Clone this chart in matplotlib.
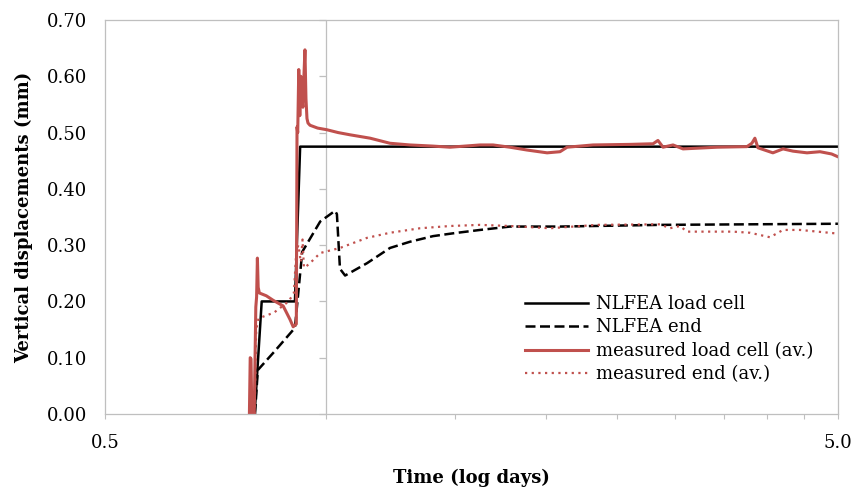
import numpy as np
import matplotlib
matplotlib.use("Agg")
import matplotlib.pyplot as plt

# Data (time in days, displacement in mm)
nlfea_load_t = [0.80, 0.818, 0.908, 0.923, 5.0]
nlfea_load_d = [0.0, 0.20, 0.20, 0.475, 0.475]

nlfea_end_t = [0.801, 0.808, 0.850, 0.908, 0.929, 0.983, 1.030, 1.036, 1.046, 1.063,
               1.139, 1.224, 1.303, 1.401, 1.492, 1.624, 1.784, 2.088, 2.858, 5.0]
nlfea_end_d = [0.0, 0.078, 0.110, 0.153, 0.288, 0.342, 0.361, 0.355, 0.258, 0.246,
               0.268, 0.295, 0.306, 0.316, 0.321, 0.327, 0.333, 0.333, 0.336, 0.338]

meas_load_t = [0.787, 0.789, 0.791, 0.793, 0.796, 0.799, 0.803, 0.805, 0.807, 0.809,
               0.812, 0.830, 0.848, 0.875, 0.894, 0.903, 0.912, 0.914, 0.916, 0.919,
               0.922, 0.925, 0.928, 0.931, 0.934, 0.937, 0.940, 0.943, 0.946, 0.952,
               0.975, 1.004, 1.040, 1.080, 1.150, 1.224, 1.303, 1.400, 1.478, 1.624,
               1.692, 1.784, 1.882, 2.005, 2.088, 2.135, 2.316, 2.600, 2.770, 2.796,
               2.840, 2.886, 2.978, 3.073, 3.419, 3.756, 3.815, 3.851, 3.888, 4.075,
               4.207, 4.341, 4.536, 4.725, 4.900, 5.0]
meas_load_d = [0.0, 0.100, 0.098, 0.0, 0.0, 0.0, 0.190, 0.208, 0.277, 0.225,
               0.215, 0.210, 0.202, 0.192, 0.168, 0.155, 0.160, 0.510, 0.500, 0.612,
               0.530, 0.600, 0.560, 0.545, 0.600, 0.647, 0.560, 0.525, 0.517, 0.513,
               0.508, 0.505, 0.500, 0.496, 0.490, 0.481, 0.478, 0.476, 0.474, 0.478,
               0.478, 0.474, 0.469, 0.464, 0.466, 0.474, 0.478, 0.479, 0.480, 0.480,
               0.486, 0.474, 0.478, 0.471, 0.474, 0.475, 0.481, 0.490, 0.473, 0.464,
               0.471, 0.467, 0.464, 0.466, 0.462, 0.457]

meas_end_t = [0.800, 0.804, 0.810, 0.850, 0.890, 0.905, 0.912, 0.918, 0.925, 0.930,
              0.934, 0.940, 0.952, 0.983, 1.046, 1.139, 1.224, 1.345, 1.478, 1.624,
              1.784, 2.023, 2.345, 2.858, 2.949, 3.044, 3.111, 3.595, 3.793, 4.038,
              4.207, 4.438, 4.953, 5.0]
meas_end_d = [0.0, 0.150, 0.170, 0.180, 0.200, 0.215, 0.290, 0.300, 0.270, 0.310,
              0.260, 0.262, 0.268, 0.286, 0.295, 0.313, 0.322, 0.330, 0.334, 0.336,
              0.334, 0.330, 0.336, 0.337, 0.330, 0.334, 0.324, 0.324, 0.322, 0.314,
              0.327, 0.327, 0.321, 0.321]

x_major = [0.5, 5.0]
x_minor = [1.0, 1.5, 2.0, 2.5, 3.0, 3.5, 4.0, 4.5]
y_ticks = [0.0, 0.1, 0.2, 0.3, 0.4, 0.5, 0.6, 0.7]

red = "#C0504D"
grey = "#BFBFBF"

plt.rcParams['font.family'] = ['DejaVu Serif']

fig = plt.figure(figsize=(8.55, 4.94), dpi=100)
ax = fig.add_axes([105/855, 1 - 414/494, 733/855, 394/494])

ax.plot(nlfea_load_t, nlfea_load_d, color="black", lw=1.8, label="NLFEA load cell")
ax.plot(nlfea_end_t, nlfea_end_d, color="black", lw=1.8, dashes=(4, 1.8),
        label="NLFEA end")
ax.plot(meas_load_t, meas_load_d, color=red, lw=2.2, label="measured load cell (av.)")
ax.plot(meas_end_t, meas_end_d, color=red, lw=1.6, linestyle=(0, (1, 2)),
        label="measured end (av.)")

ax.set_xscale("log")
ax.set_xlim(0.5, 5.0)
ax.set_ylim(0, 0.7)

ax.set_xticks(x_major, labels=["0.5", "5.0"])
ax.set_xticks(x_minor, minor=True)
ax.xaxis.set_minor_formatter(plt.NullFormatter())
ax.set_yticks(y_ticks, labels=[f"{v:.2f}" for v in y_ticks])
ax.yaxis.set_minor_locator(plt.NullLocator())

ax.tick_params(axis="x", which="both", direction="out", length=3.6, width=0.8,
               color=grey, labelsize=13, pad=11)
ax.tick_params(axis="y", length=0, labelsize=13, pad=13)

for s in ax.spines.values():
    s.set_color(grey)
    s.set_linewidth(0.9)

# vertical axis crosses at 1.0 day, with its own tick marks
ax.axvline(1.0, color=grey, lw=0.9, zorder=0)
ax.plot([1.0] * len(y_ticks), y_ticks, linestyle="none", marker=0, markersize=5,
        markeredgewidth=0.9, color=grey, clip_on=False, zorder=0)

ax.set_xlabel("Time (log days)", fontsize=13, fontweight="bold", labelpad=12)
ax.set_ylabel("Vertical displacements (mm)", fontsize=13, fontweight="bold", labelpad=10)

ax.legend(loc="upper left", bbox_to_anchor=(525/855, 1 - 295/494),
          bbox_transform=fig.transFigure, frameon=False, fontsize=13,
          borderpad=0, borderaxespad=0, handlelength=3.5, handletextpad=0.45,
          labelspacing=0.3)

fig.savefig("out.png", dpi=100)
